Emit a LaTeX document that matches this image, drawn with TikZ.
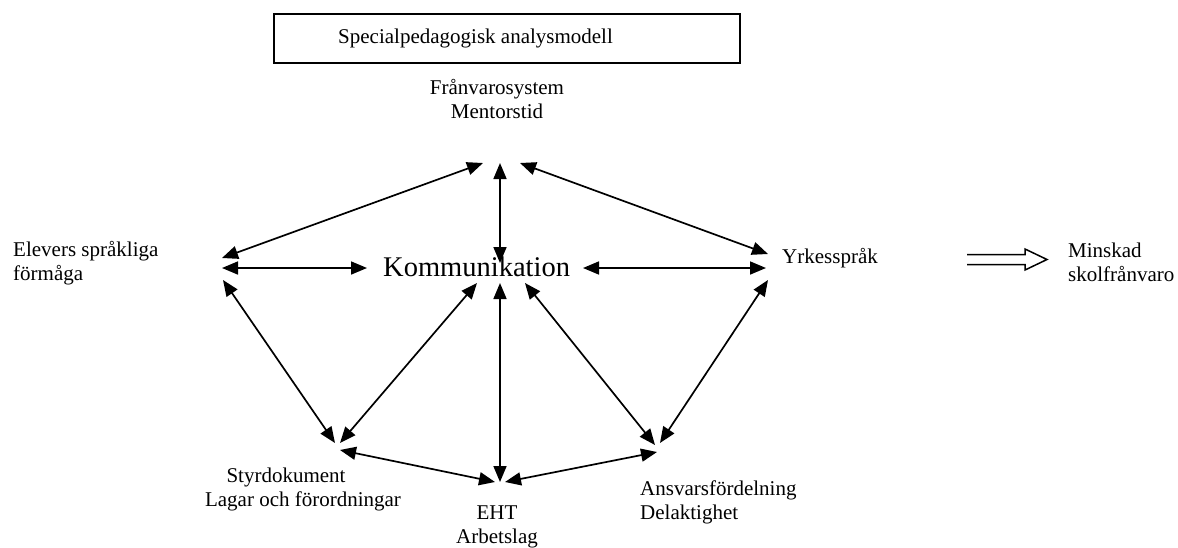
\documentclass[tikz,border=0pt]{standalone}
\usepackage{fontspec}
\setmainfont{Liberation Serif}
\usetikzlibrary{arrows.meta}
\begin{document}
\begin{tikzpicture}[x=1pt,y=-1pt,
  lbl/.style={inner sep=0pt,font=\fontsize{21}{24}\selectfont},
  dbl/.style={line width=1.7pt,{Triangle[length=16pt,width=13pt]}-{Triangle[length=16pt,width=13pt]}},
  titlebox/.style={draw,line width=1.5pt}]
\useasboundingbox (0,0) rectangle (1178,547);
% title box
\node[titlebox,minimum width=466pt,minimum height=49pt,inner sep=0pt] (box) at (507,38.5) {};
\node[lbl,anchor=west] (title) at (338,38.5) {Specialpedagogisk analysmodell};
% labels
\node[lbl,align=center] (franv) at (497,99) {Frånvarosystem\\Mentorstid};
\node[lbl,align=left,anchor=west] (elev) at (13,263) {Elevers språkliga\\förmåga};
\node[inner sep=0pt,anchor=west,font=\fontsize{28.5}{30}\selectfont] (komm) at (383,267) {Kommunikation};
\node[lbl,anchor=west] (yrk) at (782,258) {Yrkesspråk};
\node[lbl,align=left,anchor=west] (mins) at (1068,262) {Minskad\\skolfrånvaro};
\node[lbl,align=center] (styr) at (303,489) {Styrdokument\hspace*{34pt}\\Lagar och förordningar};
\node[lbl,align=center] (eht) at (497,527) {EHT\\Arbetslag};
\node[lbl,align=left,anchor=west] (ans) at (640,502) {Ansvarsfördelning\\Delaktighet};
% hub points
\coordinate (tL) at (483,163); \coordinate (tC) at (500,163); \coordinate (tR) at (520,163);
\coordinate (lU) at (222,258); \coordinate (lC) at (222,268); \coordinate (lD) at (223,280);
\coordinate (kL) at (367,268); \coordinate (kU) at (500,263); \coordinate (kR) at (583,268);
\coordinate (kDL) at (477,283); \coordinate (kD) at (500,283); \coordinate (kDR) at (525,283);
\coordinate (rU) at (768,254); \coordinate (rC) at (766,268); \coordinate (rD) at (768,280);
\coordinate (sL) at (335,443); \coordinate (sR) at (340,443); \coordinate (sB) at (340,450);
\coordinate (eL) at (495,482); \coordinate (eC) at (500,482); \coordinate (eR) at (505,482);
\coordinate (aL) at (655,445); \coordinate (aR) at (660,443); \coordinate (aB) at (657,452);
% connectors
\draw[dbl] (lU) -- (tL);
\draw[dbl] (kU) -- (tC);
\draw[dbl] (tR) -- (rU);
\draw[dbl] (lC) -- (kL);
\draw[dbl] (kR) -- (rC);
\draw[dbl] (lD) -- (sL);
\draw[dbl] (kDL) -- (sR);
\draw[dbl] (kD) -- (eC);
\draw[dbl] (kDR) -- (aL);
\draw[dbl] (rD) -- (aR);
\draw[dbl] (sB) -- (eL);
\draw[dbl] (eR) -- (aB);
% outline double arrow
\draw[line width=1.5pt,line join=miter] (967,254.5) -- (1025,254.5) -- (1025,249) -- (1047,259.5) -- (1025,270) -- (1025,264.5) -- (967,264.5);
\end{tikzpicture}
\end{document}
